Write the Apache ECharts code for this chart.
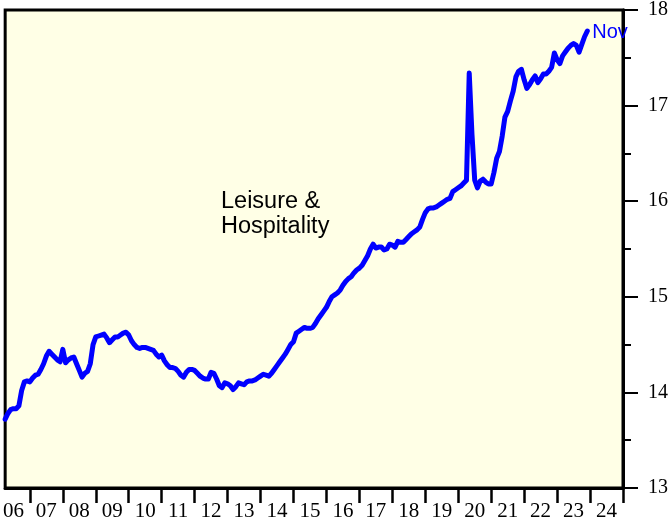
<!DOCTYPE html>
<html>
<head>
<meta charset="utf-8">
<script src="https://cdn.jsdelivr.net/npm/echarts@6/dist/echarts.min.js"></script>
<style>
  html, body { margin: 0; padding: 0; background: #fff; }
  #chart { width: 671px; height: 523px; }
</style>
</head>
<body>
<div id="chart"></div>
<script>
// monthly series, first value = March 2006, last value = November 2023
var startYear = 2006;
var startMonth = 3;
var endLabel = 'Nov';
var title = 'Leisure &\nHospitality';

var yearLabels = ['06', '07', '08', '09', '10', '11', '12', '13', '14', '15',
  '16', '17', '18', '19', '20', '21', '22', '23', '24'];
var yTicks = [13, 14, 15, 16, 17, 18];

var earnings = [
  // 2006 (Mar-Dec)
  13.72, 13.78, 13.82, 13.83, 13.83, 13.86, 14.02, 14.11, 14.12, 14.11,
  // 2007
  14.15, 14.18, 14.19, 14.24, 14.30, 14.38, 14.43, 14.40, 14.37, 14.34, 14.32, 14.45,
  // 2008
  14.31, 14.34, 14.36, 14.37, 14.30, 14.23, 14.16, 14.20, 14.22, 14.30, 14.50, 14.58,
  // 2009
  14.59, 14.60, 14.61, 14.57, 14.52, 14.55, 14.58, 14.58, 14.60, 14.62, 14.63, 14.60,
  // 2010
  14.54, 14.50, 14.47, 14.46, 14.47, 14.47, 14.46, 14.45, 14.44, 14.40, 14.37, 14.39,
  // 2011
  14.33, 14.29, 14.26, 14.26, 14.25, 14.22, 14.18, 14.16, 14.21, 14.24, 14.24, 14.23,
  // 2012
  14.20, 14.17, 14.15, 14.14, 14.14, 14.21, 14.20, 14.14, 14.07, 14.05, 14.10, 14.09,
  // 2013
  14.07, 14.03, 14.06, 14.10, 14.09, 14.08, 14.11, 14.12, 14.12, 14.13, 14.15, 14.17,
  // 2014
  14.19, 14.18, 14.17, 14.20, 14.24, 14.28, 14.32, 14.36, 14.40, 14.45, 14.50, 14.53,
  // 2015
  14.62, 14.64, 14.66, 14.68, 14.67, 14.67, 14.68, 14.72, 14.77, 14.81, 14.85, 14.89,
  // 2016
  14.95, 15.00, 15.02, 15.04, 15.07, 15.12, 15.16, 15.19, 15.21, 15.25, 15.28, 15.30,
  // 2017
  15.33, 15.38, 15.43, 15.50, 15.55, 15.51, 15.52, 15.52, 15.49, 15.50, 15.55, 15.54,
  // 2018
  15.52, 15.58, 15.57, 15.57, 15.60, 15.63, 15.66, 15.68, 15.70, 15.73, 15.81, 15.88,
  // 2019
  15.92, 15.93, 15.93, 15.94, 15.96, 15.98, 16.00, 16.02, 16.03, 16.10, 16.12, 16.14,
  // 2020
  16.16, 16.19, 16.22, 17.34, 16.70, 16.22, 16.14, 16.21, 16.23, 16.20, 16.18, 16.18,
  // 2021
  16.30, 16.45, 16.52, 16.68, 16.88, 16.94, 17.05, 17.15, 17.30, 17.36, 17.38, 17.27,
  // 2022
  17.18, 17.22, 17.27, 17.31, 17.24, 17.28, 17.33, 17.33, 17.36, 17.40, 17.55, 17.48,
  // 2023 (Jan-Nov)
  17.44, 17.52, 17.56, 17.60, 17.63, 17.65, 17.63, 17.56, 17.64, 17.72, 17.78
];

var chart = echarts.init(document.getElementById('chart'));

// x is in years; each month is plotted at the end of that month
var points = earnings.map(function (v, i) {
  return [startYear + (startMonth + i) / 12, v];
});
var yearStarts = yearLabels.map(function (s, k) { return startYear + k + 1; });
var yearMids = yearLabels.map(function (s, k) { return startYear + k + 0.5; });

var option = {
  animation: false,
  grid: {
    left: 5,
    right: 41,
    top: 8,
    bottom: 35,
    show: true,
    backgroundColor: '#ffffe6',
    borderColor: '#000',
    borderWidth: 3
  },
  xAxis: {
    type: 'value',
    min: startYear + startMonth / 12,
    max: 2025,
    splitLine: { show: false },
    axisLine: { show: true, lineStyle: { color: '#000', width: 3 } },
    axisTick: {
      show: true,
      customValues: yearStarts,
      length: 15,
      lineStyle: { color: '#000', width: 2.5 }
    },
    axisLabel: {
      customValues: yearMids,
      margin: 13,
      color: '#000',
      fontFamily: 'Liberation Serif',
      fontSize: 21,
      formatter: function (v) {
        return yearLabels[Math.floor(v) - startYear];
      }
    }
  },
  yAxis: {
    type: 'value',
    position: 'right',
    min: yTicks[0],
    max: yTicks[yTicks.length - 1],
    interval: 1,
    splitLine: { show: false },
    axisLine: { show: true, lineStyle: { color: '#000', width: 3 } },
    axisTick: { show: true, length: 15, lineStyle: { color: '#000', width: 2 } },
    minorTick: { show: true, splitNumber: 2, length: 8, lineStyle: { color: '#000', width: 2 } },
    axisLabel: {
      margin: 25,
      color: '#000',
      fontFamily: 'Liberation Serif',
      fontSize: 20
    }
  },
  series: [{
    type: 'line',
    data: points,
    showSymbol: false,
    clip: false,
    lineStyle: { color: '#0000ff', width: 5, join: 'round', cap: 'round' },
    endLabel: {
      show: true,
      formatter: endLabel,
      color: '#0000ff',
      fontFamily: 'Liberation Sans',
      fontSize: 20,
      distance: 5,
      offset: [0, 1]
    }
  }],
  graphic: [{
    type: 'text',
    left: 221,
    top: 189,
    style: {
      text: title,
      fill: '#000',
      font: '23.5px "Liberation Sans"',
      lineHeight: 25
    }
  }]
};

chart.setOption(option);
</script>
</body>
</html>
